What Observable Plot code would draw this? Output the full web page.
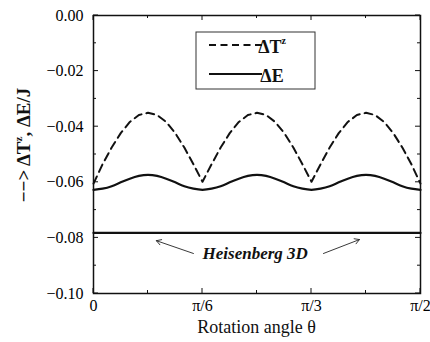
<!DOCTYPE html>
<html>
<head>
<meta charset="utf-8">
<script src="https://cdn.jsdelivr.net/npm/d3@7"></script>
<script src="https://cdn.jsdelivr.net/npm/@observablehq/plot@0.6"></script>
</head>
<body style="margin:0;background:#fff">
<div id="chart"></div>
<script>
// Rotation angle in degrees (0 .. 90 = pi/2)
const angle = [0,2.5,5,7.5,10,12.5,15,17.5,20,22.5,25,27.5,30,
  32.5,35,37.5,40,42.5,45,47.5,50,52.5,55,57.5,60,
  62.5,65,67.5,70,72.5,75,77.5,80,82.5,85,87.5,90];
const deltaTz = [-0.0605,-0.0535,-0.0475,-0.0423,-0.0383,-0.0358,-0.0350,-0.0358,-0.0383,-0.0423,-0.0475,-0.0535,-0.0598,
  -0.0535,-0.0475,-0.0423,-0.0383,-0.0358,-0.0350,-0.0358,-0.0383,-0.0423,-0.0475,-0.0535,-0.0598,
  -0.0535,-0.0475,-0.0423,-0.0383,-0.0358,-0.0350,-0.0358,-0.0383,-0.0423,-0.0475,-0.0535,-0.0605];
const deltaE = [-0.0627,-0.0623,-0.0614,-0.0600,-0.0587,-0.0577,-0.0573,-0.0577,-0.0587,-0.0600,-0.0614,-0.0623,-0.0627,
  -0.0623,-0.0614,-0.0600,-0.0587,-0.0577,-0.0573,-0.0577,-0.0587,-0.0600,-0.0614,-0.0623,-0.0627,
  -0.0623,-0.0614,-0.0600,-0.0587,-0.0577,-0.0573,-0.0577,-0.0587,-0.0600,-0.0614,-0.0623,-0.0627];
const heisenbergAngle = [0, 90];
const heisenbergValue = [-0.0782, -0.0782];

const xTicks = [0, 30, 60, 90];
const xTickLabels = ["0", "π/6", "π/3", "π/2"];
const xMinor = [15, 45, 75];
const yTicks = [0, -0.02, -0.04, -0.06, -0.08, -0.10];
const yMinor = [-0.01, -0.03, -0.05, -0.07, -0.09];

// annotation "Heisenberg 3D" with two arrows
const noteText = ["Heisenberg 3D"];
const noteX = [44.5], noteY = [-0.0857];
const arrowFromX = [27.5, 63.3], arrowFromY = [-0.0856, -0.0856];
const arrowToX = [17.3, 73.2], arrowToY = [-0.0810, -0.0806];

const tz = angle.map((a, i) => ({a, v: deltaTz[i]}));
const te = angle.map((a, i) => ({a, v: deltaE[i]}));
const th = heisenbergAngle.map((a, i) => ({a, v: heisenbergValue[i]}));
const arrows = arrowFromX.map((d, i) => ({x1: d, y1: arrowFromY[i], x2: arrowToX[i], y2: arrowToY[i]}));
const notes = noteText.map((t, i) => ({t, x: noteX[i], y: noteY[i]}));

const SERIF = "'Liberation Serif', serif";

const plot = Plot.plot({
  width: 430,
  height: 342,
  marginLeft: 93,
  marginRight: 10,
  marginTop: 15,
  marginBottom: 49,
  style: {fontFamily: SERIF, fontSize: "16px"},
  x: {domain: [0, 90], ticks: xTicks, tickFormat: d => xTickLabels[xTicks.indexOf(d)], tickSize: 0, tickPadding: 6, label: null},
  y: {domain: [-0.10, 0], ticks: yTicks, tickFormat: d => d3.format(".2f")(d).replace("-", "−"), tickSize: 0, tickPadding: 10, label: null},
  marks: [
    Plot.line(th, {x: "a", y: "v", stroke: "#111", strokeWidth: 2.2}),
    Plot.line(te, {x: "a", y: "v", stroke: "#111", strokeWidth: 2.2, curve: "natural"}),
    Plot.line(tz, {x: "a", y: "v", stroke: "#111", strokeWidth: 2, strokeDasharray: "8,5"}),
    Plot.arrow(arrows, {x1: "x1", y1: "y1", x2: "x2", y2: "y2", stroke: "#222", strokeWidth: 0.9, headLength: 9, bend: 0}),
    Plot.text(notes, {x: "x", y: "y", text: "t", fontSize: 17, fontWeight: "bold", fontStyle: "italic", fill: "#111"}),
    Plot.frame({stroke: "#111", strokeWidth: 1.5})
  ]
});
document.getElementById("chart").appendChild(plot);

const sx = plot.scale("x"), sy = plot.scale("y");
const svg = d3.select(plot);
const L = sx.apply(0), R = sx.apply(90), T = sy.apply(0), B = sy.apply(-0.10);
const g = svg.append("g").attr("stroke", "#111").attr("stroke-width", 1);
// inward ticks on all sides
for (const [vals, len] of [[yTicks, 5], [yMinor, 3]]) {
  for (const v of vals) {
    const yy = sy.apply(v);
    g.append("line").attr("x1", L).attr("x2", L + len).attr("y1", yy).attr("y2", yy);
    g.append("line").attr("x1", R).attr("x2", R - len).attr("y1", yy).attr("y2", yy);
  }
}
for (const [vals, len] of [[xTicks, 5], [xMinor, 3]]) {
  for (const v of vals) {
    const xx = sx.apply(v);
    g.append("line").attr("x1", xx).attr("x2", xx).attr("y1", B).attr("y2", B - len);
    g.append("line").attr("x1", xx).attr("x2", xx).attr("y1", T).attr("y2", T + len);
  }
}

// x-axis title
svg.append("text").attr("x", (L + R) / 2).attr("y", 333).attr("text-anchor", "middle")
  .attr("font-size", 18).attr("fill", "#111").text("Rotation angle θ");

// y-axis title
const yt = svg.append("text").attr("transform", `translate(30,145) rotate(-90)`)
  .attr("text-anchor", "middle").attr("font-size", 19).attr("font-weight", "bold").attr("fill", "#111");
yt.append("tspan").text("−−> ΔT");
yt.append("tspan").attr("font-size", 11).attr("dy", -8).text("z");
yt.append("tspan").attr("dy", 8).text(", ΔE/J");

// legend box inside the frame
const lg = svg.append("g");
lg.append("rect").attr("x", 196).attr("y", 32).attr("width", 119).attr("height", 57)
  .attr("fill", "#fff").attr("stroke", "#333").attr("stroke-width", 1);
lg.append("line").attr("x1", 209).attr("x2", 262).attr("y1", 45).attr("y2", 45)
  .attr("stroke", "#111").attr("stroke-width", 2).attr("stroke-dasharray", "7,4.5");
lg.append("line").attr("x1", 209).attr("x2", 262).attr("y1", 74).attr("y2", 74)
  .attr("stroke", "#111").attr("stroke-width", 2);
const l1 = lg.append("text").attr("x", 272).attr("y", 53).attr("font-size", 18).attr("font-weight", "bold").attr("fill", "#111");
l1.append("tspan").text("ΔT");
l1.append("tspan").attr("font-size", 10).attr("dy", -9).text("z");
lg.append("text").attr("x", 272).attr("y", 82).attr("font-size", 18).attr("font-weight", "bold").attr("fill", "#111").text("ΔE");

svg.selectAll("text").style("font-family", SERIF);
</script>
</body>
</html>
